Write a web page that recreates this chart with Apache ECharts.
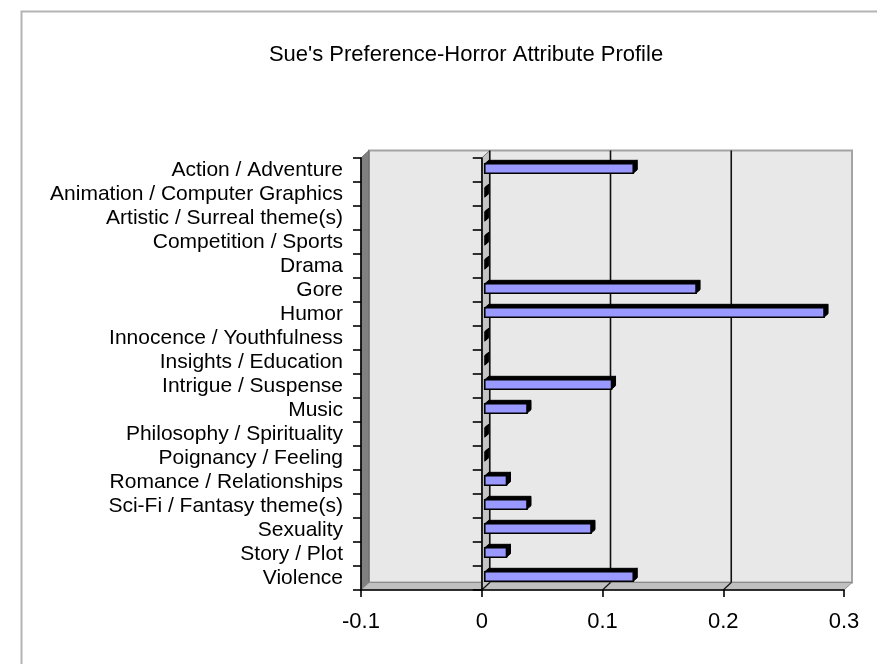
<!DOCTYPE html>
<html>
<head>
<meta charset="utf-8">
<script src="https://cdn.jsdelivr.net/npm/echarts@6/dist/echarts.min.js"></script>
<style>
  html, body { margin: 0; padding: 0; background: #ffffff; }
  #chart { width: 877px; height: 664px; }
</style>
</head>
<body>
<div id="chart"></div>
<script>
// Attribute categories, top to bottom
const categories = [
  'Action / Adventure',
  'Animation / Computer Graphics',
  'Artistic / Surreal theme(s)',
  'Competition / Sports',
  'Drama',
  'Gore',
  'Humor',
  'Innocence / Youthfulness',
  'Insights / Education',
  'Intrigue / Suspense',
  'Music',
  'Philosophy / Spirituality',
  'Poignancy / Feeling',
  'Romance / Relationships',
  'Sci-Fi / Fantasy theme(s)',
  'Sexuality',
  'Story / Plot',
  'Violence'
];

// Share of each attribute in the profile
const shares = [0.123, 0, 0, 0, 0, 0.175, 0.281, 0, 0, 0.105, 0.035, 0, 0, 0.018, 0.035, 0.088, 0.018, 0.123];

// Value axis ticks
const xTicks = [-0.1, 0, 0.1, 0.2, 0.3];
// Gridlines drawn on the back wall
const wallGridValues = [0, 0.1, 0.2];

const FONT = '"Liberation Sans", Arial, sans-serif';
// 3D look: offset from the front plane to the back wall, in pixels
const DEPTH = [8, -7.5];
// Bars sit a little behind the front plane and have their own shallow depth
const BAR_FRONT = [3, -1.5];
const BAR_DEPTH = [4, -3.5];
const BAR_FRACTION = 0.39;

const chart = echarts.init(document.getElementById('chart'), null, { renderer: 'canvas' });

function renderFrame(params, api) {
  const cs = params.coordSys;
  const L = cs.x, T = cs.y, R = cs.x + cs.width, B = cs.y + cs.height;
  const dx = DEPTH[0], dy = DEPTH[1];
  const xAt = v => api.coord([v, 0])[0];
  const children = [];
  // back wall
  children.push({
    type: 'rect',
    shape: { x: L + dx, y: T + dy, width: cs.width, height: cs.height },
    style: { fill: '#e8e8e8', stroke: '#a4a4a4', lineWidth: 2 }
  });
  // left side wall
  children.push({
    type: 'polygon',
    shape: { points: [[L, T], [L + dx, T + dy], [L + dx, B + dy], [L, B]] },
    style: { fill: '#808080', stroke: '#6a6a6a', lineWidth: 1 }
  });
  // floor
  children.push({
    type: 'polygon',
    shape: { points: [[L, B], [L + dx, B + dy], [R + dx, B + dy], [R, B]] },
    style: { fill: '#c0c0c0', stroke: '#8c8c8c', lineWidth: 1 }
  });
  // zero plane strip
  const x0 = xAt(0);
  children.push({
    type: 'polygon',
    shape: { points: [[x0, T], [x0 + dx, T + dy], [x0 + dx, B + dy], [x0, B]] },
    style: { fill: '#c4c4c4', stroke: '#7a7a7a', lineWidth: 1 }
  });
  // back wall gridlines and their floor continuation
  wallGridValues.forEach(v => {
    const x = xAt(v);
    children.push({
      type: 'line',
      shape: { x1: x + dx, y1: T + dy, x2: x + dx, y2: B + dy },
      style: { stroke: '#111', lineWidth: 1.6 }
    });
    children.push({
      type: 'line',
      shape: { x1: x, y1: B, x2: x + dx, y2: B + dy },
      style: { stroke: '#111', lineWidth: 1.2 }
    });
  });
  return { type: 'group', children };
}

function renderBar(params, api) {
  const v = api.value(0), c = api.value(1);
  const base = api.coord([0, c]);
  const tip = api.coord([v, c]);
  const bh = api.size([0, 1])[1] * BAR_FRACTION;
  const x0 = base[0] + BAR_FRONT[0];
  const x1 = tip[0] + BAR_FRONT[0];
  const yTop = base[1] + BAR_FRONT[1] - bh / 2;
  const yBot = yTop + bh;
  const ddx = BAR_DEPTH[0], ddy = BAR_DEPTH[1];
  const children = [
    {
      type: 'polygon',
      shape: { points: [[x0, yTop], [x0 + ddx, yTop + ddy], [x1 + ddx, yTop + ddy], [x1, yTop]] },
      style: { fill: '#000', stroke: '#000', lineWidth: 1 }
    },
    {
      type: 'polygon',
      shape: { points: [[x1, yTop], [x1 + ddx, yTop + ddy], [x1 + ddx, yBot + ddy], [x1, yBot]] },
      style: { fill: '#000', stroke: '#000', lineWidth: 1 }
    }
  ];
  if (x1 - x0 > 0.5) {
    children.push({
      type: 'rect',
      shape: { x: x0, y: yTop, width: x1 - x0, height: bh },
      style: { fill: '#9999ff', stroke: '#000', lineWidth: 1.6 }
    });
  }
  return { type: 'group', children };
}

const option = {
  backgroundColor: '#ffffff',
  animation: false,
  title: {
    text: "Sue's Preference-Horror Attribute Profile",
    left: 461,
    top: 39,
    textAlign: 'center',
    textStyle: { fontFamily: FONT, fontSize: 22, fontWeight: 'normal', color: '#000' }
  },
  graphic: [{
    type: 'rect',
    left: 19, top: 9,
    shape: { width: 900, height: 700 },
    style: { fill: 'none', stroke: '#b4b4b4', lineWidth: 2 },
    z: 0
  }],
  grid: { left: 361, top: 158, width: 483, height: 432, containLabel: false },
  xAxis: {
    type: 'value',
    min: xTicks[0],
    max: xTicks[xTicks.length - 1],
    interval: 0.1,
    z: 5,
    axisLine: { show: true, onZero: false, lineStyle: { color: '#000', width: 1.6 } },
    axisTick: { show: true, length: 7, lineStyle: { color: '#000', width: 1.6 } },
    axisLabel: {
      margin: 21, fontFamily: FONT, fontSize: 22, color: '#000',
      formatter: v => String(Math.round(v * 10) / 10)
    },
    splitLine: { show: false }
  },
  yAxis: [
    {
      type: 'category',
      data: categories,
      inverse: true,
      position: 'left',
      z: 5,
      axisLine: { show: true, onZero: false, lineStyle: { color: '#000', width: 1.6 } },
      axisTick: { show: true, length: 8, interval: 0, lineStyle: { color: '#000', width: 1.6 } },
      axisLabel: { interval: 0, margin: 18, fontFamily: FONT, fontSize: 21, color: '#000' },
      splitLine: { show: false }
    },
    {
      type: 'category',
      data: categories,
      inverse: true,
      position: 'right',
      z: 5,
      axisLine: { show: true, onZero: true, lineStyle: { color: '#000', width: 1.6 } },
      axisTick: { show: true, inside: true, length: 9, interval: 0, lineStyle: { color: '#000', width: 1.6 } },
      axisLabel: { show: false },
      splitLine: { show: false }
    }
  ],
  series: [
    {
      type: 'custom',
      name: 'frame',
      z: 1,
      silent: true,
      renderItem: renderFrame,
      data: [[0, 0]],
      encode: { x: 0, y: 1 }
    },
    {
      type: 'custom',
      name: 'Share',
      z: 3,
      renderItem: renderBar,
      data: shares.map((v, i) => [v, i]),
      encode: { x: 0, y: 1 }
    }
  ]
};

chart.setOption(option);
</script>
</body>
</html>
